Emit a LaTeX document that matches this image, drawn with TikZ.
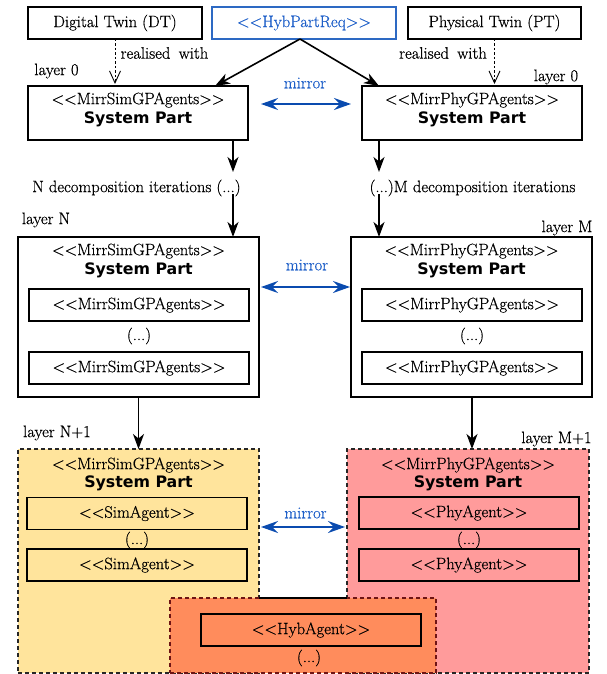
\documentclass[tikz,border=0pt]{standalone}
\usepackage{fontspec}
\setmainfont{Latin Modern Roman}[RawFeature={embolden=0.6}]
\newfontfamily\sysfont{DejaVu Sans}
\usetikzlibrary{arrows.meta}
\definecolor{yfill}{RGB}{255,228,156}
\definecolor{rfill}{RGB}{255,155,155}
\definecolor{ofill}{RGB}{255,140,92}
\definecolor{tblue}{RGB}{30,95,200}
\definecolor{ablue}{RGB}{10,75,175}
\definecolor{bblue}{RGB}{45,105,195}
\definecolor{oborder}{RGB}{110,20,20}
\begin{document}
\begin{tikzpicture}[x=1pt,y=-1pt,
  font=\fontsize{16.6}{19}\selectfont,
  box/.style={draw=black, line width=1.2pt, inner sep=0pt, outer sep=0pt},
  cont/.style={draw=black!85, line width=1.2pt, dash pattern=on 4pt off 3pt, inner sep=0pt, outer sep=0pt},
  lbl/.style={inner sep=0pt},
  sys/.style={inner sep=0pt, font=\sysfont\bfseries\fontsize{15.8}{18}\selectfont},
  blk/.style={line width=1.6pt, -{Stealth[length=15pt,width=11pt,inset=4.5pt]}},
  mir/.style={draw=ablue, line width=1.8pt, {Stealth[length=17pt,width=12pt,inset=6pt]}-{Stealth[length=17pt,width=12pt,inset=6pt]}},
  real/.style={line width=0.9pt, dash pattern=on 2.5pt off 2pt, -{Straight Barb[length=12pt,width=11pt,line width=0.9pt]}},
  mtxt/.style={inner sep=0pt, text=tblue}
]
\useasboundingbox (0,0) rectangle (606,674);

% top row
\node[box, minimum width=174pt, minimum height=32pt] (DT) at (115,23) {Digital Twin (DT)};
\node[box, draw=bblue, text=tblue, minimum width=184pt, minimum height=32pt] (HPR) at (304,23) {<{}<HybPartReq>{}>};
\node[box, minimum width=173pt, minimum height=32pt] (PT) at (494.5,23) {Physical Twin (PT)};

% layer 0
\node[box, minimum width=220pt, minimum height=54pt] (L0L) at (138,113) {};
\node[box, minimum width=220pt, minimum height=54pt] (L0R) at (472,113) {};
\node[lbl] (h0L) at (138,100) {<{}<MirrSimGPAgents>{}>};
\node[sys] (s0L) at (138,119) {System Part};
\node[lbl] (h0R) at (472,100) {<{}<MirrPhyGPAgents>{}>};
\node[sys] (s0R) at (472,119) {System Part};

\node[lbl] (rwL) at (164.5,53) {realised\hspace{0.5em}with};
\node[lbl] (rwR) at (443,53) {realised\hspace{0.5em}with};
\node[lbl] (lay0L) at (56.5,71) {layer 0};
\node[lbl] (lay0R) at (556,77) {layer 0};

\draw[real] (DT.south) -- ([yshift=2pt]DT.south |- L0L.north);
\draw[real] (PT.south) -- ([yshift=2pt]PT.south |- L0R.north);
\draw[blk] ([xshift=-4pt]HPR.south) -- ([xshift=-33pt]L0L.north east);
\draw[blk] ([xshift=-4pt]HPR.south) -- ([xshift=17pt]L0R.north west);

\node[mtxt] (m0) at (305,83) {mirror};
\draw[mir] ([xshift=13pt,yshift=9pt]L0L.east) -- ([xshift=-11pt,yshift=9pt]L0R.west);

% decomposition
\node[lbl] (decL) at (136.5,188) {N decomposition iterations (...)};
\node[lbl] (decR) at (472.5,188) {(...)M decomposition iterations};
\coordinate (aL1) at (233,172);
\coordinate (aL2) at (233,194);
\coordinate (aR1) at (379,172);
\coordinate (aR2) at (379,194);

% layer N / M
\node[box, minimum width=241pt, minimum height=160pt] (LNL) at (138.5,317) {};
\node[box, minimum width=241pt, minimum height=160pt] (LNR) at (471.5,317) {};
\node[lbl] (layN) at (46,220) {layer N};
\node[lbl] (layM) at (567,228) {layer M};
\draw[blk] (L0L.south -| aL1) -- (aL1);
\draw[blk] (aL2) -- (aL2 |- LNL.north);
\draw[blk] (L0R.south -| aR1) -- (aR1);
\draw[blk] (aR2) -- (aR2 |- LNR.north);

\node[lbl] (hNL) at (138.5,251) {<{}<MirrSimGPAgents>{}>};
\node[sys] (sNL) at (138.5,270) {System Part};
\node[box, minimum width=220pt, minimum height=32pt] (iNL1) at (139,305) {<{}<MirrSimGPAgents>{}>};
\node[lbl] (dNL) at (139,336) {(...)};
\node[box, minimum width=220pt, minimum height=32pt] (iNL2) at (139,368) {<{}<MirrSimGPAgents>{}>};

\node[lbl] (hNR) at (471.5,251) {<{}<MirrPhyGPAgents>{}>};
\node[sys] (sNR) at (471.5,270) {System Part};
\node[box, minimum width=220pt, minimum height=32pt] (iNR1) at (472,305) {<{}<MirrPhyGPAgents>{}>};
\node[lbl] (dNR) at (472,336) {(...)};
\node[box, minimum width=220pt, minimum height=32pt] (iNR2) at (472,368) {<{}<MirrPhyGPAgents>{}>};

\node[mtxt] (mN) at (307,265) {mirror};
\draw[mir] ([xshift=2pt,yshift=30pt]LNL.east) -- ([xshift=-1pt,yshift=30pt]LNR.west);

% layer N+1 / M+1
\node[cont, fill=yfill, minimum width=241pt, minimum height=224pt] (Y) at (138.5,561) {};
\node[cont, fill=rfill, minimum width=242pt, minimum height=224pt] (R) at (468,561) {};
\node[lbl] (layN1) at (57,433) {layer N+1};
\node[lbl] (layM1) at (556.5,439) {layer M+1};
\draw[blk] (LNL.south) -- (Y.north);
\draw[blk] ([xshift=0.5pt]LNR.south) -- ([xshift=0.5pt]LNR.south |- R.north);

\node[lbl] (hY) at (138.5,465) {<{}<MirrSimGPAgents>{}>};
\node[sys] (sY) at (138.5,483) {System Part};
\node[box, fill=yfill, minimum width=220pt, minimum height=32pt] (iY1) at (137,513.5) {<{}<SimAgent>{}>};
\node[lbl] (dY) at (137,540) {(...)};
\node[box, fill=yfill, minimum width=220pt, minimum height=32pt] (iY2) at (137,565) {<{}<SimAgent>{}>};

\node[lbl] (hR) at (468,465) {<{}<MirrPhyGPAgents>{}>};
\node[sys] (sR) at (468,483) {System Part};
\node[box, fill=rfill, minimum width=220pt, minimum height=32pt] (iR1) at (469,513) {<{}<PhyAgent>{}>};
\node[lbl] (dR) at (469,540) {(...)};
\node[box, fill=rfill, minimum width=220pt, minimum height=32pt] (iR2) at (469,565) {<{}<PhyAgent>{}>};

\node[mtxt] (mB) at (305.5,513) {mirror};
\draw[mir] ([xshift=2pt,yshift=34pt]Y.east) -- ([xshift=-2pt,yshift=34pt]R.west);

% hybrid
\node[cont, draw=oborder, fill=ofill, minimum width=266pt, minimum height=75pt] (O) at (303,635.5) {};
\draw[line width=1.2pt] (Y.east |- O.north) -- (R.west |- O.north);
\node[box, fill=ofill, minimum width=220pt, minimum height=32pt] (iO) at (311,630) {<{}<HybAgent>{}>};
\node[lbl] (dO) at (309,658) {(...)};
\end{tikzpicture}
\end{document}
